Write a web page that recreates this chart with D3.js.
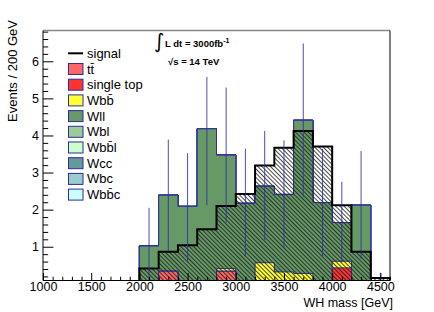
<!DOCTYPE html>
<html><head><meta charset="utf-8">
<script src="https://cdn.jsdelivr.net/npm/d3@7"></script>
<style>
html,body{margin:0;padding:0;background:#fff;}
svg{display:block;font-family:"Liberation Sans",Arial,sans-serif;}
</style></head>
<body>
<svg id="c" width="434" height="312"></svg>
<script>
// ---- data ----
const binLow = [2000, 2200, 2400, 2600, 2800, 3000, 3200, 3400, 3600, 3800, 4000, 4200, 4400];
const binWidth = 200;
const ttbar     = [0, 0.34, 0, 0, 0.34, 0, 0, 0, 0, 0, 0, 0, 0];
const singleTop = [0, 0, 0, 0, 0, 0, 0, 0, 0, 0, 0.43, 0, 0];
const wbb       = [0, 0, 0, 0, 0.07, 0, 0.57, 0.32, 0.28, 0, 0.18, 0, 0];
const wll       = [1.02, 2.05, 2.09, 4.18, 3.06, 2.17, 2.06, 2.09, 4.13, 2.19, 1.04, 2.12, 0];
const wbl       = [0, 0, 0, 0, 0, 0, 0, 0, 0, 0, 0, 0, 0];
const wbbl      = [0, 0, 0, 0, 0, 0, 0, 0, 0, 0, 0, 0, 0];
const wcc       = [0, 0, 0, 0, 0, 0, 0, 0, 0, 0, 0, 0, 0];
const wbc       = [0, 0, 0, 0, 0, 0, 0, 0, 0, 0, 0, 0, 0];
const wbbc      = [0, 0, 0, 0, 0, 0, 0, 0, 0, 0, 0, 0, 0];
const signal    = [0.415, 0.865, 1.04, 1.47, 2.10, 2.42, 3.19, 3.67, 4.12, 3.70, 2.12, 0.865, 0.16];
const errLow    = [0, 0.88, 0.61, 2.12, 1.66, 0.73, 1.17, 0.95, 2.34, 0.73, 0.57, 0.68, 0];
const errHigh   = [2.05, 3.89, 3.52, 5.58, 5.29, 3.64, 4.12, 3.87, 6.48, 3.64, 2.75, 3.58, 0.3];
const seriesNames = ["tt\u0304", "single top", "Wbb\u0304", "Wll", "Wbl", "Wbb\u0304l", "Wcc", "Wbc", "Wbb\u0304c"];
const seriesColors = ["#ff6666", "#ff3333", "#ffff33", "#669966", "#99cc99", "#ccffcc", "#669999", "#99cccc", "#ccffff"];
const xTicks = [1000, 1500, 2000, 2500, 3000, 3500, 4000, 4500];
const yTicks = [1, 2, 3, 4, 5, 6];

const series = [ttbar, singleTop, wbb, wll, wbl, wbbl, wcc, wbc, wbbc];

// ---- layout ----
const L = 43, R = 390, T = 30.5, B = 280.5;
const x = d3.scaleLinear().domain([1000, 4600]).range([L, R]);
const yMin = 0.09;
const y = d3.scaleLinear().domain([yMin, 6.83]).range([B, T]);
const svg = d3.select("#c");

const defs = svg.append("defs");
defs.append("clipPath").attr("id", "clip").append("rect")
  .attr("x", L).attr("y", T).attr("width", R - L).attr("height", B - T);
const pat = defs.append("pattern").attr("id", "hatch").attr("patternUnits", "userSpaceOnUse")
  .attr("width", 10).attr("height", 3).attr("patternTransform", "rotate(45)");
pat.append("line").attr("x1", 0).attr("x2", 10).attr("y1", 1.5).attr("y2", 1.5)
  .attr("stroke", "#1a1a1a").attr("stroke-width", 0.8);

function yc(v) { return y(Math.max(v, yMin)); }
function stepPath(vals, closed) {
  const first = binLow[0], last = binLow[binLow.length - 1] + binWidth;
  let p = "M" + x(first) + "," + yc(0);
  vals.forEach((v, i) => {
    p += "L" + x(binLow[i]) + "," + yc(v) + "L" + x(binLow[i] + binWidth) + "," + yc(v);
  });
  p += "L" + x(last) + "," + yc(0);
  if (closed) p += "Z";
  return p;
}

// cumulative stack
const cum = [];
series.forEach((s, k) => {
  cum.push(s.map((v, i) => v + (k > 0 ? cum[k - 1][i] : 0)));
});

const plot = svg.append("g").attr("clip-path", "url(#clip)");
for (let k = series.length - 1; k >= 0; k--) {
  plot.append("path").attr("d", stepPath(cum[k], true))
    .attr("fill", seriesColors[k]).attr("stroke", "#2d2d9c").attr("stroke-width", 1);
}
// signal hatched
plot.append("path").attr("d", stepPath(signal, true)).attr("fill", "url(#hatch)");
plot.append("path").attr("d", stepPath(signal, false)).attr("fill", "none")
  .attr("stroke", "#000").attr("stroke-width", 2);
// error bars
plot.selectAll("line.err").data(binLow).enter().append("line").attr("class", "err")
  .attr("x1", d => x(d + binWidth / 2)).attr("x2", d => x(d + binWidth / 2))
  .attr("y1", (d, i) => yc(errLow[i])).attr("y2", (d, i) => yc(errHigh[i]))
  .attr("stroke", "#2f2fa8").attr("stroke-width", 1).attr("opacity", 0.85);

// axes
const xMinor = d3.range(1000, 4601, 100).filter(v => v % 500 !== 0);
const yMinor = d3.range(1, 35).map(i => i * 0.2).filter(v => Math.abs(v - Math.round(v)) > 1e-6 && v < 6.83);

const gx = svg.append("g").attr("transform", `translate(0,${B})`)
  .call(d3.axisBottom(x).tickValues(xTicks).tickSize(-7.5).tickPadding(2).tickFormat(d3.format("d")));
const gxm = svg.append("g").attr("transform", `translate(0,${B})`)
  .call(d3.axisBottom(x).tickValues(xMinor).tickSize(-3.75).tickFormat(""));
const gy = svg.append("g").attr("transform", `translate(${L},0)`)
  .call(d3.axisLeft(y).tickValues(yTicks).tickSize(-10.4).tickPadding(4).tickFormat(d3.format("d")));
const gym = svg.append("g").attr("transform", `translate(${L},0)`)
  .call(d3.axisLeft(y).tickValues(yMinor).tickSize(-5.2).tickFormat(""));
[gx, gxm, gy, gym].forEach(g => {
  g.select(".domain").remove();
  g.selectAll("line").attr("stroke", "#000");
  g.selectAll("text").attr("font-size", 12.5).attr("fill", "#000")
    .attr("font-family", "Liberation Sans, Arial, sans-serif");
});

// frame
svg.append("line").attr("x1", L).attr("x2", R).attr("y1", T).attr("y2", T).attr("stroke", "#888").attr("stroke-width", 1.5);
svg.append("line").attr("x1", R).attr("x2", R).attr("y1", T).attr("y2", B).attr("stroke", "#000");
svg.append("line").attr("x1", L).attr("x2", L).attr("y1", T).attr("y2", B).attr("stroke", "#000");
svg.append("line").attr("x1", L).attr("x2", R).attr("y1", B).attr("y2", B).attr("stroke", "#000");

// axis titles
svg.append("text").attr("x", 393).attr("y", 306.5).attr("text-anchor", "end")
  .attr("font-size", 12.5).text("WH mass [GeV]");
svg.append("text").attr("transform", "translate(17,20) rotate(-90)").attr("text-anchor", "end")
  .attr("font-size", 13).text("Events / 200 GeV");

// legend
const lg = svg.append("g");
const ly0 = 53.3, ldy = 15.7;
lg.append("line").attr("x1", 68).attr("x2", 83).attr("y1", ly0).attr("y2", ly0)
  .attr("stroke", "#000").attr("stroke-width", 2);
lg.append("text").attr("x", 87).attr("y", ly0 + 4.5).attr("font-size", 13).text("signal");
seriesNames.forEach((n, i) => {
  const cy = ly0 + ldy * (i + 1);
  lg.append("rect").attr("x", 68.5).attr("y", cy - 5.5).attr("width", 14.5).attr("height", 11)
    .attr("fill", seriesColors[i]).attr("stroke", "#2d2d9c").attr("stroke-width", 1);
  lg.append("text").attr("x", 87).attr("y", cy + 4.5).attr("font-size", 13).text(n);
});

// annotation
svg.append("text").attr("x", 154).attr("y", 48).attr("font-size", 20)
  .attr("font-family", "DejaVu Sans").text("\u222B");
const t1 = svg.append("text").attr("x", 165).attr("y", 47).attr("font-size", 9.5).attr("font-weight", "bold");
t1.append("tspan").text("L dt = 3000fb");
t1.append("tspan").attr("dy", -4).attr("font-size", 7).text("-1");
svg.append("text").attr("x", 168).attr("y", 64.5).attr("font-size", 9.5).attr("font-weight", "bold")
  .text("\u221As = 14 TeV");
</script>
</body></html>
